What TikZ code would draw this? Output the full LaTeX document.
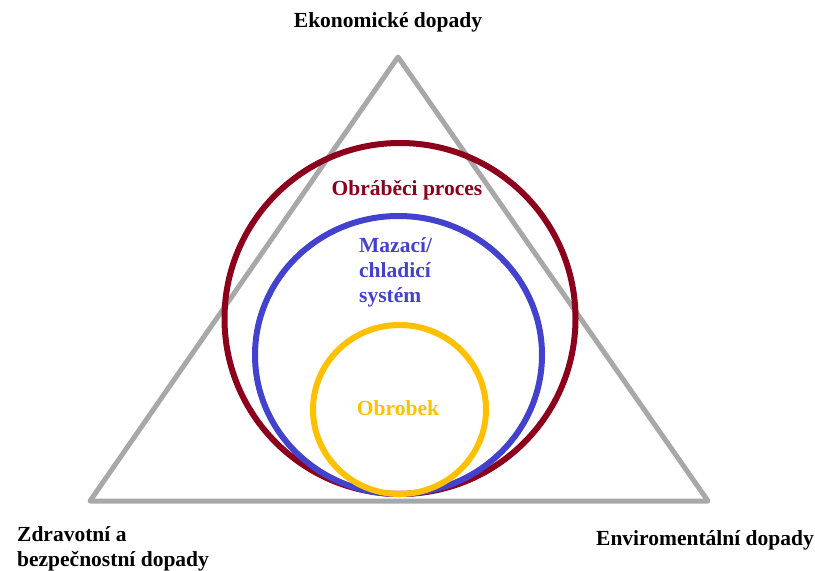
\documentclass[tikz,border=0pt]{standalone}
\usepackage{fontspec}
\setmainfont{Liberation Serif}
\usepackage{xcolor}
\definecolor{impGray}{RGB}{168, 168, 168}
\definecolor{procRed}{RGB}{140, 0, 28}
\definecolor{coolBlue}{RGB}{66, 66, 206}
\definecolor{partGold}{RGB}{255, 192, 0}
\usetikzlibrary{positioning}

\begin{document}
\begin{tikzpicture}[
    x=1pt, y=-1pt,
    impEdge/.style={
        draw=impGray, line width=5pt, line join=round
    },
    ring/.style={
        line width=6pt
    },
    impLabel/.style={
        font=\fontsize{21.5}{25}\selectfont\bfseries, text=black,
        align=left, inner sep=0pt
    },
    ringLabel/.style={
        font=\fontsize{21.5}{25}\selectfont\bfseries,
        align=left, inner sep=0pt
    }
]
    \useasboundingbox (0,0) rectangle (815,571);

    % Triangle corners
    \coordinate (apex) at (398, 57);
    \coordinate (baseLeft) at (90, 501);
    \coordinate (baseRight) at (708, 501);

    \draw[impEdge] (apex) -- (baseLeft) -- (baseRight) -- cycle;

    % Circles
    \coordinate (procCenter) at (400, 318.5);
    \coordinate (coolCenter) at (398.5, 355);
    \coordinate (partCenter) at (399.5, 409.5);

    \draw[ring, procRed] (procCenter) circle[radius=175.5];
    \draw[ring, coolBlue] (coolCenter) ellipse[x radius=143.5, y radius=139];
    \draw[ring, partGold] (partCenter) ellipse[x radius=86.5, y radius=84.5];

    % Corner labels
    \node[impLabel] (econ) at (388, 22) {Ekonomické dopady};
    \node[impLabel, anchor=west] (health) at (17, 549) {Zdravotní a\\bezpečnostní dopady};
    \node[impLabel] (envir) at (705, 540) {Enviromentální dopady};

    % Circle labels
    \node[ringLabel, text=procRed] (proc) at (407, 190) {Obráběci proces};
    \node[ringLabel, text=coolBlue, anchor=west] (cool) at (359, 272) {Mazací/\\chladicí\\systém};
    \node[ringLabel, text=partGold] (part) at (398, 408) {Obrobek};

\end{tikzpicture}
\end{document}
